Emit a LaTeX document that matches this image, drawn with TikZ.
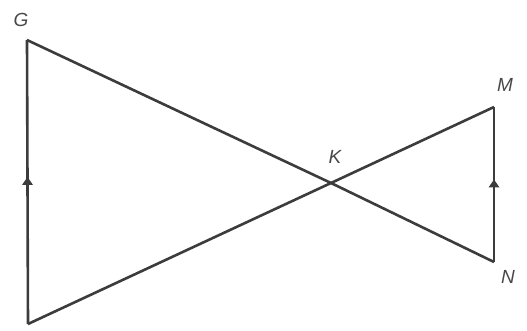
\documentclass[tikz,border=0pt]{standalone}
\usepackage{fontspec}
\setmainfont{Liberation Sans}
\usetikzlibrary{calc}
\definecolor{lc}{HTML}{3C3C3C}
\definecolor{tc}{HTML}{484848}
\begin{document}
\begin{tikzpicture}[x=1pt,y=-1pt,
  seg/.style={draw=lc,line width=2.6pt,line join=miter},
  lbl/.style={text=tc,font=\fontsize{19}{19}\selectfont\itshape,inner sep=0pt},
  tick/.style={fill=lc,draw=none}]
\useasboundingbox (0,0) rectangle (527,331);
\coordinate (G) at (27,40);
\coordinate (B) at (28,324);
\coordinate (M) at (494,107);
\coordinate (N) at (494,262);
\coordinate (K) at (331,183);
\coordinate (T1) at ($(B)!0.5!(G)$);
\coordinate (T2) at ($(N)!0.5!(M)$);
\draw[seg] (N) -- (K) -- (G);
\draw[seg] (M) -- (K) -- (B);
\draw[seg] (B) -- (G);
\draw[seg] (N) -- (M);
\fill[tick] ([shift={(0,-5)}]T1) -- ([shift={(5.5,3)}]T1) -- ([shift={(-5.5,3)}]T1) -- cycle;
\fill[tick] ([shift={(0,-5)}]T2) -- ([shift={(5.5,3)}]T2) -- ([shift={(-5.5,3)}]T2) -- cycle;
\node[lbl] (lG) at (21,20) {G};
\node[lbl] (lK) at (335,157) {K};
\node[lbl] (lM) at (505,85) {M};
\node[lbl] (lN) at (508,277) {N};
\end{tikzpicture}
\end{document}
